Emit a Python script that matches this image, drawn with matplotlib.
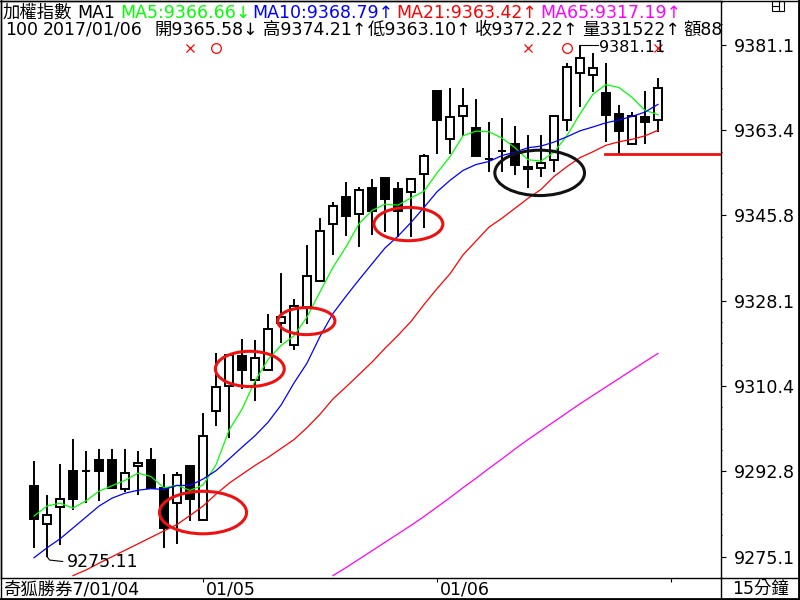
import numpy as np
import matplotlib
matplotlib.use('Agg')
import matplotlib.pyplot as plt
from matplotlib.patches import Ellipse, Rectangle
from matplotlib.lines import Line2D

plt.rcParams['font.family'] = ['DejaVu Sans', 'Noto Sans CJK TC']

# 15-minute bars, 2017/01/04 (last 13) .. 01/06
opens = [9289.84, 9281.82, 9285.38, 9292.78, 9292.78, 9295.04, 9295.04, 9289.22, 9293.95, 9295.04,
         9289.35, 9286.14, 9293.81, 9282.65, 9305.26, 9310.40, 9316.77, 9311.63, 9313.69, 9323.56,
         9319.04, 9326.85, 9332.19, 9343.97, 9349.52, 9346.17, 9351.37, 9353.64, 9351.17, 9350.70,
         9354.46, 9371.46, 9361.65, 9366.32, 9363.85, 9357.40, 9359.13, 9360.63, 9355.42, 9355.63,
         9357.19, 9365.56, 9375.37, 9374.81, 9371.11, 9366.79, 9360.63, 9366.11, 9365.58]
highs = [9294.84, 9287.79, 9294.36, 9299.50, 9297.10, 9297.45, 9297.45, 9297.45, 9297.10, 9297.72,
         9292.31, 9292.64, 9293.81, 9304.77, 9317.31, 9317.10, 9320.27, 9320.06, 9325.41, 9333.90,
         9328.55, 9339.59, 9345.35, 9348.64, 9352.81, 9351.58, 9353.43, 9353.64, 9352.61, 9353.29,
         9358.57, 9371.46, 9372.14, 9372.14, 9369.88, 9365.21, 9365.97, 9364.27, 9362.48, 9362.48,
         9366.53, 9377.28, 9381.11, 9379.48, 9377.28, 9368.64, 9367.21, 9371.58, 9374.21]
lows = [9277.01, 9275.11, 9277.51, 9284.70, 9286.14, 9286.61, 9289.35, 9288.53, 9287.85, 9289.35,
        9277.01, 9277.71, 9282.50, 9282.65, 9302.18, 9299.77, 9309.91, 9307.32, 9313.48, 9319.36,
        9317.93, 9323.27, 9332.19, 9337.54, 9341.44, 9339.18, 9341.65, 9342.39, 9341.24, 9341.36,
        9343.15, 9358.57, 9358.57, 9362.33, 9358.02, 9354.81, 9354.81, 9354.11, 9351.52, 9353.70,
        9354.81, 9363.36, 9368.17, 9371.26, 9360.98, 9358.57, 9360.42, 9360.63, 9363.10]
closes = [9282.85, 9283.73, 9286.96, 9287.09, 9292.78, 9292.84, 9289.35, 9292.51, 9294.49, 9289.35,
          9281.12, 9292.10, 9287.09, 9300.12, 9310.19, 9316.98, 9313.81, 9316.36, 9322.32, 9324.79,
          9327.05, 9333.14, 9342.47, 9347.82, 9345.76, 9351.11, 9346.79, 9349.17, 9346.79, 9353.29,
          9358.10, 9365.62, 9366.11, 9368.38, 9358.02, 9357.40, 9359.13, 9356.17, 9355.90, 9356.66,
          9366.38, 9376.60, 9378.45, 9376.39, 9366.59, 9363.36, 9366.44, 9365.09, 9372.22]

nan = np.nan
ma5 = [9283.53, 9285.59, 9286.20, 9285.17, 9286.69, 9288.68, 9289.81, 9290.92, 9292.40, 9291.71,
       9289.36, 9289.91, 9288.83, 9289.96, 9294.12, 9301.30, 9305.64, 9311.49, 9315.93, 9318.85,
       9320.87, 9324.73, 9329.95, 9335.05, 9339.25, 9344.06, 9346.79, 9348.13, 9347.92, 9349.41,
       9350.81, 9354.58, 9357.96, 9362.28, 9363.25, 9363.11, 9361.81, 9359.82, 9357.32, 9357.05,
       9358.85, 9362.34, 9366.80, 9370.90, 9372.88, 9372.28, 9370.25, 9367.57, 9366.66]
ma10 = [9274.89, 9276.95, 9278.80, 9281.06, 9283.32, 9285.59, 9287.23, 9288.26, 9288.87, 9289.20,
        9289.02, 9289.86, 9289.87, 9291.18, 9292.92, 9295.33, 9297.78, 9300.16, 9302.94, 9306.49,
        9311.08, 9315.19, 9320.72, 9325.49, 9329.05, 9332.46, 9335.76, 9339.04, 9341.49, 9344.33,
        9347.44, 9350.68, 9353.05, 9355.10, 9356.33, 9356.96, 9358.19, 9358.89, 9359.80, 9360.15,
        9360.98, 9362.08, 9363.31, 9364.11, 9364.97, 9365.56, 9366.29, 9367.19, 9368.79]
ma21 = [nan, nan, nan, 9271.19, 9272.35, 9273.76, 9275.10, 9276.44, 9277.77, 9279.11,
        9280.45, 9281.78, 9283.63, 9285.59, 9288.05, 9290.31, 9292.16, 9294.01, 9295.66, 9297.51,
        9299.36, 9301.83, 9304.60, 9307.79, 9310.26, 9312.83, 9315.40, 9318.27, 9320.95, 9323.82,
        9327.32, 9330.61, 9333.69, 9337.60, 9340.48, 9343.36, 9345.21, 9347.26, 9349.32, 9351.17,
        9353.84, 9355.90, 9357.75, 9358.98, 9360.32, 9361.04, 9361.55, 9362.27, 9363.42]
ma65 = [nan] * 23 + [9271.19, 9272.84, 9274.59, 9276.33, 9278.08, 9279.83, 9281.58,
                     9283.43, 9285.38, 9287.33, 9289.39, 9291.34, 9293.40, 9295.35, 9297.41, 9299.36, 9301.21,
                     9303.06, 9304.91, 9306.76, 9308.51, 9310.26, 9312.00, 9313.75, 9315.50, 9317.19]

day_starts = [13, 31, 49]
day_labels = ['01/05', '01/06', '']
support = 9358.57

# hand drawn marks on the chart: (bar, price, width in bars, height in points)
red_rings = [(13.0, 9284.25, 6.7, 8.8), (16.6, 9314.0, 5.3, 7.3),
             (20.95, 9323.9, 4.4, 5.6), (28.8, 9344.0, 5.3, 6.9)]
black_ring = (38.9, 9354.6, 6.9, 9.4)
signals = [(12, 'x'), (14, 'o'), (38, 'x'), (41, 'o'), (48, 'x')]

# header pieces: (x pixel, text, colour)
head1 = [(3, '加權指數', 'black'), (77, 'MA1', 'black'), (120, 'MA5:9366.66↓', '#00ff00'),
         (252, 'MA10:9368.79↑', '#0000ff'), (396, 'MA21:9363.42↑', '#ff0000'),
         (540, 'MA65:9317.19↑', '#ff00ff')]
head2 = [(5, '100'), (43, '2017/01/06'), (155, '開9365.58↓'), (263, '高9374.21↑'),
         (368, '低9363.10↑'), (475, '收9372.22↑'), (582, '量331522↑'), (683, '額88')]

idx = np.arange(len(closes))
o = np.array(opens)
c = np.array(closes)

fig = plt.figure(figsize=(8, 6), dpi=100)
ax = fig.add_axes([1 / 800, 22 / 600, 720 / 800, 577 / 600])
ax.set_xlim(-2.54, 52.85)
ax.set_ylim(9271.6, 9390.2)

# candles
ax.vlines(idx, lows, highs, color='black', lw=1.4, zorder=2)
up = c >= o
ax.bar(idx, np.abs(c - o), bottom=np.minimum(o, c), width=0.55,
       facecolor=np.where(up, 'white', 'black'), edgecolor='black', lw=1.4, zorder=3)

# moving averages
ax.plot(idx, ma5, color='#00ff00', lw=0.9, zorder=4)
ax.plot(idx, ma10, color='#0000ff', lw=0.9, zorder=4)
ax.plot(idx, ma21, color='#ff0000', lw=0.9, zorder=4)
ax.plot(idx, ma65, color='#ff00ff', lw=0.9, zorder=4)

for x0, y0, w, h in red_rings:
    ax.add_patch(Ellipse((x0, y0), w, h, fill=False, ec='#ee1111', lw=2.2, zorder=5))
x0, y0, w, h = black_ring
ax.add_patch(Ellipse((x0, y0), w, h, fill=False, ec='#111111', lw=2.2, zorder=5))

ax.plot([43.9, 52.85], [support, support], color='#ee1111', lw=2, zorder=5)

for i, m in signals:
    if m == 'x':
        ax.plot(i, 9380.4, marker='x', ms=6, mew=0.9, color='red', zorder=6)
    else:
        ax.plot(i, 9380.4, marker='o', ms=7, mew=0.9, mfc='none', color='red', zorder=6)

# high / low labels
hi = int(np.argmax(highs))
ax.plot([hi, hi + 1.38], [highs[hi], highs[hi]], color='black', lw=0.8, zorder=6)
ax.text(hi + 1.5, highs[hi] - 0.5, f'{highs[hi]:.2f}', fontsize=11.5, va='center', ha='left', zorder=6)
lo = int(np.argmin(lows))
ax.plot([lo, lo + 0.2, lo + 1.2], [lows[lo], lows[lo] - 0.7, lows[lo] - 1.0], color='black', lw=0.8, zorder=6)
ax.text(lo + 1.5, lows[lo] - 1.2, f'{lows[lo]:.2f}', fontsize=12.5, va='center', ha='left', zorder=6)

# axes styling
step = (9381.11 - 9275.11) / 6
majors = [9275.11 + step * k for k in range(7)]
minors = [9275.11 + step / 4 * k for k in range(-1, 27) if k % 4]
ax.yaxis.tick_right()
ax.set_yticks(majors)
ax.set_yticklabels([f'{v:.1f}' for v in majors])
ax.set_yticks(minors, minor=True)
ax.tick_params(axis='y', which='major', direction='out', length=3.6, width=0.8, pad=6, labelsize=12.6)
ax.tick_params(axis='y', which='minor', direction='out', length=1.0, width=0.8)
ax.set_xticks(day_starts)
ax.set_xticklabels([])
ax.tick_params(axis='x', direction='out', length=3.0, width=0.8)
for s in ax.spines.values():
    s.set_linewidth(1.0)

# header text
def px(x, y):
    return x / 800, 1 - y / 600

for x, s, col in head1:
    fig.text(*px(x, 13), s, color=col, fontsize=12.5, va='center', ha='left')
for x, s in head2:
    ax.text(*px(x, 30), s, transform=fig.transFigure, fontsize=12.5,
            va='center', ha='left', clip_on=True)

# bottom strip
fig.text(*px(3, 589), '奇狐勝券7/01/04', fontsize=12.5, va='center', ha='left')
for d, lab in zip(day_starts, day_labels):
    if lab:
        xp = ax.transData.transform((d, 9300))[0]
        fig.text(*px(xp + 3, 589), lab, fontsize=12.5, va='center', ha='left')
fig.text(*px(760, 589), '15分鐘', fontsize=12.5, va='center', ha='center')

# frame lines of the window
fig.add_artist(Line2D([721 / 800, 1], [22 / 600, 22 / 600], color='black', lw=1.0))
fig.add_artist(Line2D([0, 1], [1 / 600, 1 / 600], color='black', lw=2.0))
fig.add_artist(Line2D([721 / 800, 721 / 800], [0, 22 / 600], color='black', lw=1.0))
fig.add_artist(Line2D([799 / 800, 799 / 800], [0, 1], color='black', lw=2.0))
fig.add_artist(Line2D([0.5 / 800, 0.5 / 800], [0, 1], color='black', lw=1.0))
fig.add_artist(Line2D([0, 1], [599.5 / 600, 599.5 / 600], color='black', lw=1.0))

# small window icon at top right
fig.add_artist(Rectangle(px(772, 11), 12 / 800, 10 / 600, fill=False, ec='black', lw=0.8))
fig.add_artist(Line2D([779 / 800, 779 / 800], [1 - 11 / 600, 1 - 1 / 600], color='black', lw=0.8))
fig.add_artist(Line2D([772 / 800, 779 / 800], [1 - 6 / 600, 1 - 6 / 600], color='black', lw=0.8))

fig.savefig('out.png', dpi=100)
